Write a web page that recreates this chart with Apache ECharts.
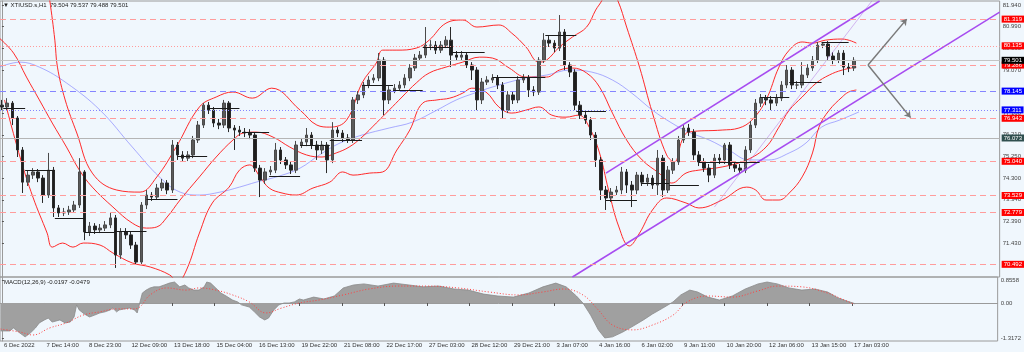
<!DOCTYPE html>
<html>
<head>
<meta charset="utf-8">
<title>XTIUSD.s H1</title>
<script src="https://cdn.jsdelivr.net/npm/echarts@6.0.0/dist/echarts.min.js"></script>
<style>
  html, body { margin: 0; padding: 0; background: #f0f7fd; }
  #chart { width: 1024px; height: 352px; }
</style>
</head>
<body>
<div id="chart"></div>
<script>
// time axis is counted in hours from the first bar (6 Dec 2022)
const xLabels = ['6 Dec 2022', '7 Dec 14:00', '8 Dec 23:00', '12 Dec 09:00', '13 Dec 18:00', '15 Dec 04:00',
  '16 Dec 13:00', '19 Dec 22:00', '21 Dec 08:00', '22 Dec 17:00', '27 Dec 03:00', '28 Dec 12:00',
  '29 Dec 21:00', '3 Jan 07:00', '4 Jan 16:00', '6 Jan 02:00', '9 Jan 11:00', '10 Jan 20:00',
  '12 Jan 06:00', '13 Jan 15:00', '17 Jan 03:00'];
const xLabelHours = [0, 33, 66, 99, 132, 165, 198, 231, 264, 297, 330, 363, 396, 429, 462, 495, 528, 561, 594, 627, 660];

const priceTicks = [81.94, 80.99, 80.03, 79.07, 78.12, 77.16, 76.21, 75.25, 74.30, 73.34, 72.39, 71.43];
const macdTicks = [0.8558, 0, -1.3172];

// one candle every 4 hours: [open, close, low, high]
const candles = [
  [77.52,77.44,77.30,77.75],[77.44,77.61,77.30,77.83],[77.61,76.95,76.64,77.70],[76.95,75.54,75.23,77.04],
  [75.54,74.12,73.64,75.67],[74.12,74.43,73.95,74.65],[74.43,74.57,74.26,74.74],[74.57,74.30,74.12,74.70],
  [74.30,73.55,73.20,74.43],[73.55,74.65,73.42,75.41],[74.65,72.98,72.58,74.79],[72.98,72.76,72.58,73.11],
  [72.76,72.80,72.62,72.98],[72.80,72.89,72.67,73.07],[72.89,73.11,72.76,73.29],[73.11,74.57,72.98,75.18],
  [74.57,71.92,71.56,74.65],[71.92,72.18,71.74,72.36],[72.18,72.01,71.83,72.31],[72.01,72.09,71.87,72.27],
  [72.09,72.23,71.96,72.40],[72.23,72.54,72.09,72.76],[72.54,70.90,70.33,72.67],[70.90,71.92,70.73,72.09],
  [71.92,71.79,71.61,72.09],[71.79,71.34,71.17,71.96],[71.34,70.59,70.46,71.48],[70.59,73.11,70.46,73.24],
  [73.11,73.55,72.93,73.77],[73.55,73.46,73.29,73.68],[73.46,73.86,73.33,74.04],[73.86,74.08,73.73,74.26],
  [74.08,73.77,73.59,74.21],[73.77,75.76,73.64,75.98],[75.76,75.32,75.10,75.89],[75.32,75.18,75.01,75.49],
  [75.18,75.32,75.05,75.49],[75.32,75.98,75.18,76.16],[75.98,76.64,75.85,76.82],[76.64,77.52,76.51,77.61],
  [77.52,77.30,77.13,77.66],[77.30,76.73,76.55,77.44],[76.73,76.64,76.46,76.91],[76.64,77.61,76.51,77.75],
  [77.61,76.51,76.33,77.70],[76.51,76.42,75.54,76.64],[76.42,76.33,76.16,76.60],[76.33,76.29,76.11,76.51],
  [76.29,76.20,76.02,76.46],[76.20,74.74,74.57,76.33],[74.74,74.21,73.46,74.88],[74.21,74.57,74.04,74.74],
  [74.57,74.65,74.43,74.83],[74.65,75.54,74.52,75.85],[75.54,75.10,74.92,75.67],[75.10,74.88,74.70,75.23],
  [74.88,74.65,74.48,75.01],[74.65,75.76,74.52,75.94],[75.76,75.89,75.63,76.07],[75.89,76.20,75.71,76.51],
  [76.20,75.76,75.58,76.33],[75.76,75.54,75.10,75.94],[75.54,75.76,75.36,75.94],[75.76,75.10,74.52,75.89],
  [75.10,76.42,74.96,76.77],[76.42,76.29,76.11,76.55],[76.29,76.07,75.89,76.42],[76.07,75.98,75.85,76.24],
  [75.98,77.75,75.85,77.88],[77.75,77.97,77.57,78.14],[77.97,78.41,77.83,78.54],[78.41,78.63,78.27,78.80],
  [78.63,78.72,78.50,78.89],[78.72,79.51,78.58,79.82],[79.51,77.75,77.08,79.64],[77.75,78.19,77.57,78.36],
  [78.19,78.27,78.05,78.45],[78.27,78.41,78.14,78.58],[78.41,78.72,78.27,78.89],[78.72,79.16,78.58,79.33],
  [79.16,79.60,79.03,79.78],[79.60,79.73,79.47,79.91],[79.73,80.17,79.60,80.97],[80.17,80.17,79.95,80.39],
  [80.17,79.95,79.78,80.35],[79.95,80.17,79.82,80.35],[80.17,80.39,80.04,80.57],[80.39,79.73,79.20,80.97],
  [79.73,79.64,79.47,79.91],[79.64,79.73,79.51,79.91],[79.73,79.29,79.16,79.86],[79.29,79.07,78.63,79.42],
  [79.07,77.75,77.30,79.20],[77.75,78.54,77.57,78.72],[78.54,78.63,78.41,78.80],[78.63,78.72,78.50,78.89],
  [78.72,78.41,78.23,78.85],[78.41,77.30,76.95,78.54],[77.30,77.97,77.17,78.14],[77.97,77.75,77.57,78.10],
  [77.75,78.63,77.61,78.80],[78.63,78.72,78.50,78.89],[78.72,78.19,77.88,78.85],[78.19,78.10,77.92,78.36],
  [78.10,79.51,77.97,79.64],[79.51,80.39,79.38,80.70],[80.39,80.26,80.09,80.57],[80.26,80.04,79.86,80.39],
  [80.04,80.75,79.91,81.50],[80.75,79.29,79.07,80.88],[79.29,78.98,78.76,79.42],[78.98,77.52,77.30,79.11],
  [77.52,77.08,76.91,77.70],[77.08,76.86,76.69,77.26],[76.86,76.20,75.98,76.99],[76.20,75.10,74.79,76.33],
  [75.10,73.77,73.33,75.23],[73.77,73.42,72.89,73.95],[73.42,73.68,73.24,73.86],[73.68,73.77,73.55,73.95],
  [73.77,74.57,73.59,74.79],[74.57,73.99,73.64,74.70],[73.99,73.77,73.02,74.17],[73.77,74.43,73.59,74.57],
  [74.43,74.12,73.95,74.57],[74.12,74.30,73.95,74.48],[74.30,73.99,73.82,74.43],[73.99,75.18,73.55,75.54],
  [75.18,73.77,73.46,75.32],[73.77,74.65,73.64,74.83],[74.65,75.01,74.48,75.18],[75.01,75.98,74.88,76.16],
  [75.98,76.51,75.85,76.64],[76.51,76.33,76.16,76.69],[76.33,75.32,75.10,76.46],[75.32,75.01,74.83,75.49],
  [75.01,74.74,74.57,75.18],[74.74,74.43,74.12,74.92],[74.43,75.18,74.30,75.36],[75.18,75.10,74.92,75.36],
  [75.10,75.76,74.92,75.85],[75.76,74.88,74.70,75.89],[74.88,74.74,74.57,75.05],[74.74,74.65,74.48,74.92],
  [74.65,75.54,74.52,75.71],[75.54,76.64,75.41,76.82],[76.64,77.61,76.51,77.79],[77.61,77.83,77.44,78.01],
  [77.83,77.75,77.52,77.97],[77.75,77.61,77.30,77.92],[77.61,77.83,77.48,78.01],[77.83,78.41,77.70,78.58],
  [78.41,79.07,78.27,79.29],[79.07,78.41,78.23,79.20],[78.41,78.41,78.23,78.58],[78.41,78.85,78.27,79.42],
  [78.85,79.16,78.72,79.33],[79.16,79.51,79.03,79.69],[79.51,80.17,79.38,80.31],[80.17,80.22,80.04,80.31],
  [80.22,79.69,79.51,80.35],[79.69,79.51,79.33,79.86],[79.51,79.82,79.38,79.95],[79.82,79.20,78.85,79.95],
  [79.20,79.16,78.98,79.38],[79.16,79.50,79.03,79.64]
];

// Bollinger bands and moving average, [hour, price]
const bbUpper = [[32,83.93],[37,82.16],[41,80.39],[43,79.20],[49,77.75],[58,76.29],[70,74.52],[89,73.77],
  [107,73.68],[120,74.35],[135,75.67],[153,77.44],[166,77.88],[179,78.10],[194,77.83],[209,78.27],[231,77.30],
  [244,76.64],[254,76.55],[267,76.86],[279,78.50],[290,79.38],[295,79.95],[306,79.95],[321,80.04],[331,80.39],
  [344,81.14],[357,81.28],[368,80.97],[385,81.06],[395,80.70],[406,80.09],[416,79.42],[422,79.51],[432,80.09],
  [442,80.53],[453,80.97],[460,81.72],[465,82.16],[470,82.82],[477,82.16],[484,80.97],[494,79.20],[504,77.17],
  [515,75.32],[521,75.01],[527,75.98],[532,76.33],[558,76.42],[571,76.51],[581,76.86],[592,77.75],[602,79.20],
  [610,79.95],[620,80.31],[628,80.26],[638,80.39],[651,80.44],[662,80.26]];
const bbMiddle = [[-2,80.48],[9,79.82],[19,78.76],[29,77.75],[39,76.73],[50,75.67],[60,74.65],[70,73.90],
  [86,73.02],[101,72.31],[112,72.09],[120,72.14],[128,72.58],[138,73.33],[153,74.35],[166,75.23],[179,75.98],
  [187,76.29],[197,76.33],[210,76.11],[223,75.67],[236,75.32],[248,75.23],[259,75.41],[269,75.67],[279,76.11],
  [290,76.73],[300,77.30],[310,77.88],[321,78.50],[331,78.94],[344,79.20],[357,79.42],[370,79.64],[380,79.60],
  [393,79.16],[406,78.76],[422,78.76],[432,79.07],[442,79.16],[453,78.94],[463,78.32],[473,77.17],[484,75.98],
  [496,75.10],[509,74.52],[519,74.08],[530,74.52],[540,74.65],[558,74.79],[577,75.10],[592,75.67],[602,76.55],
  [610,77.30],[620,77.88],[631,78.50],[641,78.85],[651,79.07],[662,79.20]];
const bbLower = [[2,77.75],[14,75.23],[24,73.46],[35,71.87],[39,71.25],[47,71.43],[55,71.25],[63,71.43],
  [76,71.34],[86,70.99],[101,70.55],[115,70.37],[130,70.02],[136,69.71],[143,70.24],[153,71.87],[163,73.20],
  [176,73.90],[184,74.65],[192,74.88],[200,74.35],[207,73.86],[217,73.64],[228,73.55],[241,73.86],[254,74.12],
  [264,74.57],[272,74.43],[285,74.52],[295,74.57],[306,75.54],[316,76.42],[326,77.61],[337,77.75],[347,77.83],
  [357,78.05],[364,78.27],[375,78.10],[385,77.44],[395,77.17],[406,77.30],[416,77.44],[426,77.08],[437,76.99],
  [447,77.08],[455,76.55],[463,75.41],[470,73.77],[478,72.14],[486,71.30],[494,71.87],[504,72.89],[515,73.42],
  [530,73.20],[540,72.98],[558,73.33],[577,73.90],[584,73.77],[592,73.33],[602,73.33],[610,73.64],[620,74.35],
  [628,75.41],[633,76.55],[641,77.30],[651,77.88],[656,78.10],[662,78.19]];
const maLine = [[-2,79.20],[14,79.42],[29,79.20],[50,78.50],[76,77.30],[101,75.67],[122,74.35],[138,73.68],
  [153,73.55],[169,73.68],[184,73.90],[197,74.12],[215,74.39],[231,74.74],[246,75.32],[262,75.85],[279,76.20],
  [300,76.51],[318,76.77],[337,77.30],[352,77.75],[366,78.05],[380,78.32],[406,78.72],[422,78.85],[440,79.07],
  [457,78.98],[473,78.63],[488,78.05],[504,77.30],[519,76.73],[532,76.33],[548,75.98],[563,75.54],[579,75.10],
  [594,75.10],[610,75.41],[623,75.85],[635,76.55],[649,76.86],[664,77.22]];

// daily open segments: [start hour, end hour, price]
const dayOpens = [[1,18,77.39],[18,41,74.65],[41,64,72.54],[64,87,71.92],[87,112,71.96],[112,136,73.37],
  [136,159,75.27],[159,184,77.39],[186,207,76.33],[207,231,74.39],[231,254,75.76],[254,279,75.98],
  [279,303,78.41],[303,326,78.19],[326,349,80.09],[349,374,79.86],[380,421,78.76],[421,445,80.61],
  [445,468,77.26],[468,492,73.33],[495,517,74.08],[517,540,73.99],[540,587,75.01],[587,610,77.88],
  [610,635,78.54],[635,656,80.31]];

// trend channel and projection arrows
const channelUpper = [[468,74.52],[680,82.12]];
const channelLower = [[442,69.93],[773,81.63]];
const channelThin = [[552,73.02],[674,82.12]];
const arrowStart = [671,79.29];
const arrowUp = [701,81.32];
const arrowDown = [704,76.97];

// horizontal levels
const redDashed = [81.319, 79.286, 76.943, 75.040, 73.529, 72.779, 70.492];
const redDotted = [80.135];
const blueDashed = [78.145];
const blueDotted = [77.311];
const lastPrice = 79.501;
const greyLevel = 76.073;

// MACD(12,26,9): main as histogram, signal dotted, [hour, value]
const macdMain = [[-1,-1.04],[6,-1.04],[9,-0.93],[14,-1.12],[18,-1.26],[22,-1.12],[26,-0.93],[29,-0.74],
  [33,-0.63],[36,-0.56],[39,-0.71],[45,-0.63],[49,-0.74],[53,-0.71],[56,-0.52],[58,-0.07],[60,-0.26],
  [64,-0.41],[68,-0.52],[72,-0.45],[76,-0.37],[80,-0.33],[84,-0.26],[86,-0.19],[89,-0.33],[91,-0.26],
  [95,-0.22],[99,-0.19],[103,-0.26],[105,-0.37],[107,0.00],[109,0.37],[112,0.48],[115,0.56],[118,0.60],
  [122,0.60],[126,0.67],[130,0.74],[134,0.78],[138,0.60],[142,0.67],[145,0.56],[149,0.48],[153,0.48],
  [157,0.60],[159,0.78],[162,0.74],[166,0.56],[170,0.37],[174,0.26],[179,0.11],[183,0.04],[186,-0.07],
  [192,-0.15],[196,-0.33],[200,-0.52],[204,-0.63],[207,-0.56],[211,-0.26],[215,-0.07],[219,0.00],[223,0.00],
  [227,0.04],[231,0.15],[234,0.11],[242,0.22],[250,0.15],[258,0.26],[265,0.56],[273,0.67],[281,0.71],
  [292,0.63],[304,0.74],[316,0.67],[327,0.60],[339,0.63],[351,0.52],[362,0.48],[374,0.33],[385,0.26],
  [397,0.22],[409,0.37],[420,0.60],[430,0.74],[438,0.60],[446,0.26],[451,0.00],[457,-0.45],[463,-1.00],
  [468,-1.30],[474,-1.26],[482,-1.08],[490,-0.86],[498,-0.63],[505,-0.41],[513,-0.19],[521,0.04],[527,0.30],
  [534,0.48],[540,0.41],[548,0.22],[557,0.11],[567,0.26],[577,0.52],[587,0.71],[594,0.78],[602,0.71],
  [611,0.56],[621,0.48],[631,0.52],[641,0.41],[649,0.19],[656,0.07],[662,-0.02]];
const macdSignal = [[-1,-0.97],[14,-1.08],[24,-1.19],[37,-0.93],[50,-0.74],[63,-0.45],[76,-0.33],[89,-0.22],
  [101,-0.22],[107,-0.15],[115,0.30],[128,0.56],[143,0.48],[153,0.56],[166,0.48],[179,0.30],[192,0.04],
  [205,-0.37],[217,-0.19],[231,0.00],[246,0.11],[265,0.30],[285,0.52],[308,0.63],[331,0.63],[354,0.56],
  [378,0.41],[401,0.30],[420,0.41],[436,0.52],[451,0.30],[463,-0.26],[474,-0.82],[490,-1.00],[505,-0.82],
  [521,-0.45],[532,0.04],[548,0.26],[567,0.22],[587,0.45],[602,0.63],[621,0.60],[641,0.37],[652,0.15],
  [662,-0.05]];

const X_MIN = -1.5, X_MAX = 773;
const FONT = 'Liberation Sans';

function levelLine(value, color, type, bg) {
  return {
    yAxis: value,
    lineStyle: { color: color, type: type, width: 1 },
    label: {
      show: true, position: 'end', distance: 2,
      formatter: value.toFixed(3),
      backgroundColor: bg, color: '#ffffff',
      fontSize: 6, fontFamily: FONT, padding: [1, 2, 0, 2]
    }
  };
}

const markData = [];
redDashed.forEach(v => markData.push(levelLine(v, '#ff9c9c', [6, 4], '#ff0000')));
redDotted.forEach(v => markData.push(levelLine(v, '#ff9c9c', [1, 2], '#ff0000')));
blueDashed.forEach(v => markData.push(levelLine(v, '#8585ff', [6, 4], '#0000ff')));
blueDotted.forEach(v => markData.push(levelLine(v, '#8585ff', [1, 2], '#0000ff')));
markData.push(levelLine(lastPrice, '#c4c4c4', 'solid', '#000000'));
markData.push(levelLine(greyLevel, '#b5b5b5', 'solid', '#2f4f4f'));

dayOpens.forEach(d => {
  markData.push([
    { coord: [d[0], d[2]], lineStyle: { color: '#1a1a1a', width: 1, type: 'solid' }, label: { show: false } },
    { coord: [d[1], d[2]] }
  ]);
});

[arrowUp, arrowDown].forEach(end => {
  markData.push([
    { coord: arrowStart, symbol: 'none', lineStyle: { color: '#7a7a7a', width: 1.5, type: 'solid' }, label: { show: false } },
    { coord: end, symbol: 'arrow', symbolSize: 6 }
  ]);
});

const myChart = echarts.init(document.getElementById('chart'));

myChart.setOption({
  animation: false,
  backgroundColor: '#f0f7fd',
  textStyle: { fontFamily: FONT },
  grid: [
    { left: 0, top: 1, width: 1001, height: 276, show: true, borderColor: '#9a9a9a', borderWidth: 1, backgroundColor: 'transparent' },
    { left: 0, top: 277, width: 1001, height: 64, show: true, borderColor: '#9a9a9a', borderWidth: 1, backgroundColor: 'transparent' }
  ],
  xAxis: [
    {
      gridIndex: 0, type: 'value', min: X_MIN, max: X_MAX,
      axisLine: { show: false }, axisTick: { show: false }, axisLabel: { show: false }, splitLine: { show: false }
    },
    {
      gridIndex: 1, type: 'value', min: X_MIN, max: X_MAX,
      axisLine: { show: true, lineStyle: { color: '#9a9a9a' } },
      axisTick: { show: true, customValues: xLabelHours, length: 3, lineStyle: { color: '#555' } },
      axisLabel: {
        customValues: xLabelHours,
        formatter: v => xLabels[xLabelHours.indexOf(v)],
        align: 'left', margin: 1, fontSize: 6, color: '#333', fontFamily: FONT, padding: [0, 0, 0, 2]
      },
      splitLine: { show: false }
    }
  ],
  yAxis: [
    {
      gridIndex: 0, type: 'value', position: 'right', min: 69.93, max: 82.12,
      axisLine: { show: true, lineStyle: { color: '#9a9a9a' } },
      axisTick: { show: true, customValues: priceTicks, length: 2, lineStyle: { color: '#555' } },
      axisLabel: {
        customValues: priceTicks, formatter: v => v.toFixed(3),
        margin: 3, fontSize: 6, color: '#444', fontFamily: FONT
      },
      splitLine: { show: false }
    },
    {
      gridIndex: 1, type: 'value', position: 'right', min: -1.414, max: 0.967,
      axisLine: { show: true, lineStyle: { color: '#9a9a9a' } },
      axisTick: { show: true, customValues: macdTicks, length: 2, lineStyle: { color: '#555' } },
      axisLabel: {
        customValues: macdTicks, formatter: v => (v === 0 ? '0.00' : v.toFixed(4)),
        margin: 3, fontSize: 6, color: '#444', fontFamily: FONT
      },
      splitLine: { show: false }
    }
  ],
  graphic: [
    { type: 'text', left: 3, top: 2, style: { text: '\u25BC XTIUSD.s,H1  79.504 79.537 79.488 79.501', fontSize: 6, fontFamily: FONT, fill: '#222' } },
    { type: 'text', left: 4, top: 279, style: { text: 'MACD(12,26,9) -0.0197 -0.0479', fontSize: 6, fontFamily: FONT, fill: '#222' } }
  ],
  series: [
    {
      name: 'MA', type: 'line', xAxisIndex: 0, yAxisIndex: 0, data: maLine, smooth: 0.4,
      symbol: 'none', lineStyle: { color: 'rgba(120,120,255,0.6)', width: 1 }, z: 2
    },
    {
      name: 'BB upper', type: 'line', xAxisIndex: 0, yAxisIndex: 0, data: bbUpper, smooth: 0.4,
      symbol: 'none', lineStyle: { color: '#ff2a2a', width: 1 }, z: 2
    },
    {
      name: 'BB middle', type: 'line', xAxisIndex: 0, yAxisIndex: 0, data: bbMiddle, smooth: 0.4,
      symbol: 'none', lineStyle: { color: '#ff2a2a', width: 1 }, z: 2
    },
    {
      name: 'BB lower', type: 'line', xAxisIndex: 0, yAxisIndex: 0, data: bbLower, smooth: 0.4,
      symbol: 'none', lineStyle: { color: '#ff2a2a', width: 1 }, z: 2
    },
    {
      name: 'XTIUSD', type: 'candlestick', xAxisIndex: 0, yAxisIndex: 0,
      data: candles.map((c, i) => [i * 4, c[0], c[1], c[2], c[3]]),
      encode: { x: 0, y: [1, 2, 3, 4] },
      barWidth: 3,
      itemStyle: { color: '#5a5a5a', color0: '#1e1e1e', borderColor: '#4a4a4a', borderColor0: '#2a2a2a', borderWidth: 1 },
      z: 3,
      markLine: { silent: true, symbol: 'none', animation: false, data: markData }
    },
    {
      name: 'channel upper', type: 'line', xAxisIndex: 0, yAxisIndex: 0, data: channelUpper,
      symbol: 'none', lineStyle: { color: '#a74cf0', width: 1.5 }, z: 4
    },
    {
      name: 'channel lower', type: 'line', xAxisIndex: 0, yAxisIndex: 0, data: channelLower,
      symbol: 'none', lineStyle: { color: '#a74cf0', width: 1.5 }, z: 4
    },
    {
      name: 'channel thin', type: 'line', xAxisIndex: 0, yAxisIndex: 0, data: channelThin,
      symbol: 'none', lineStyle: { color: 'rgba(170,100,225,0.45)', width: 1 }, z: 4
    },
    {
      name: 'MACD', type: 'line', xAxisIndex: 1, yAxisIndex: 1, data: macdMain,
      symbol: 'none', lineStyle: { color: '#8a8a8a', width: 0.8 },
      areaStyle: { color: '#a0a0a0', opacity: 1 }
    },
    {
      name: 'Signal', type: 'line', xAxisIndex: 1, yAxisIndex: 1, data: macdSignal, smooth: 0.4,
      symbol: 'none', lineStyle: { color: '#ff4040', width: 1, type: [1, 2] }
    }
  ]
});
</script>
</body>
</html>
